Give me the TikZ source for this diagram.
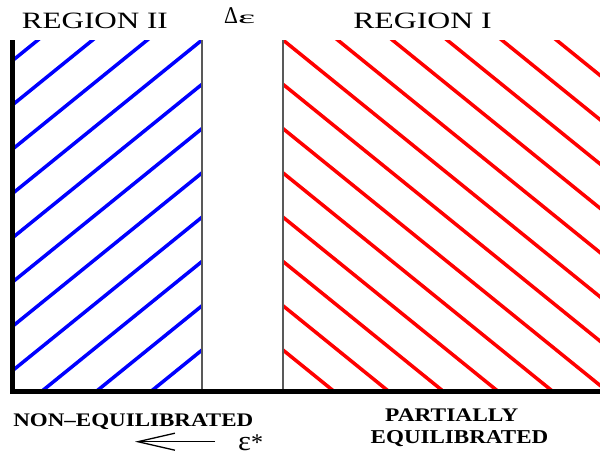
\documentclass[tikz,border=0pt]{standalone}
\usepackage{fontspec}
\setmainfont{Liberation Serif}
\usepackage{graphicx}
\usetikzlibrary{arrows.meta}
\tikzset{
  hatchblue/.style={blue, line width=3.5pt},
  hatchred/.style={red, line width=3.5pt},
  axisline/.style={black, line width=5pt},
  divider/.style={black!65, line width=1.3pt},
  lbl/.style={inner sep=0pt, anchor=base},
  arrowline/.style={line width=1.3pt, -{Straight Barb[length=37pt,width=17pt,line width=1.3pt]}}
}
\begin{document}
\begin{tikzpicture}[x=1pt,y=-1pt]
\useasboundingbox (0,0) rectangle (600,458);
% Region II hatch
\begin{scope}
  \clip (15,40) rectangle (202,389);
  \foreach \k in {-4,...,8} {
    \draw[hatchblue] (502,{40+44.29*\k-243}) -- (-98,{40+44.29*\k+243});
  }
\end{scope}
% Region I hatch
\begin{scope}
  \clip (283,40) rectangle (600,389);
  \foreach \k in {-7,...,8} {
    \draw[hatchred] (-17,{40+44.29*\k-243}) -- (683,{40+44.29*\k+324});
  }
\end{scope}
% dividers
\draw[divider] (202,40) -- (202,389);
\draw[divider] (283,40) -- (283,389);
% axes
\draw[axisline] (12.5,40) -- (12.5,394);
\draw[axisline] (10,391.5) -- (600,391.5);
% labels
\node[lbl] (r2) at (94.8,28) {\resizebox{146pt}{15.5pt}{REGION II}};
\node[lbl, anchor=base west] (de) at (224,23.5) {\fontsize{24}{24}\selectfont\scalebox{0.9}[1]{Δ}\scalebox{1.7}[0.75]{ε}};
\node[lbl] (r1) at (422.5,28) {\resizebox{138.4pt}{15.5pt}{REGION I}};
\node[lbl] (ne) at (133.3,426) {\resizebox{240pt}{12.7pt}{\textbf{NON–EQUILIBRATED}}};
\node[lbl] (pa) at (451.7,421) {\resizebox{133pt}{12.7pt}{\textbf{PARTIALLY}}};
\node[lbl] (eq) at (459.5,443) {\resizebox{177.6pt}{13pt}{\textbf{EQUILIBRATED}}};
\node[lbl, anchor=base west] (es) at (238,450) {\fontsize{28}{28}\selectfont\scalebox{1.1}[1]{ε}\fontsize{24}{24}\selectfont *};
\coordinate (atail) at (215,441.7);
\coordinate (atip) at (135,441.7);
\draw[arrowline] (atail) -- (atip);
\end{tikzpicture}
\end{document}
